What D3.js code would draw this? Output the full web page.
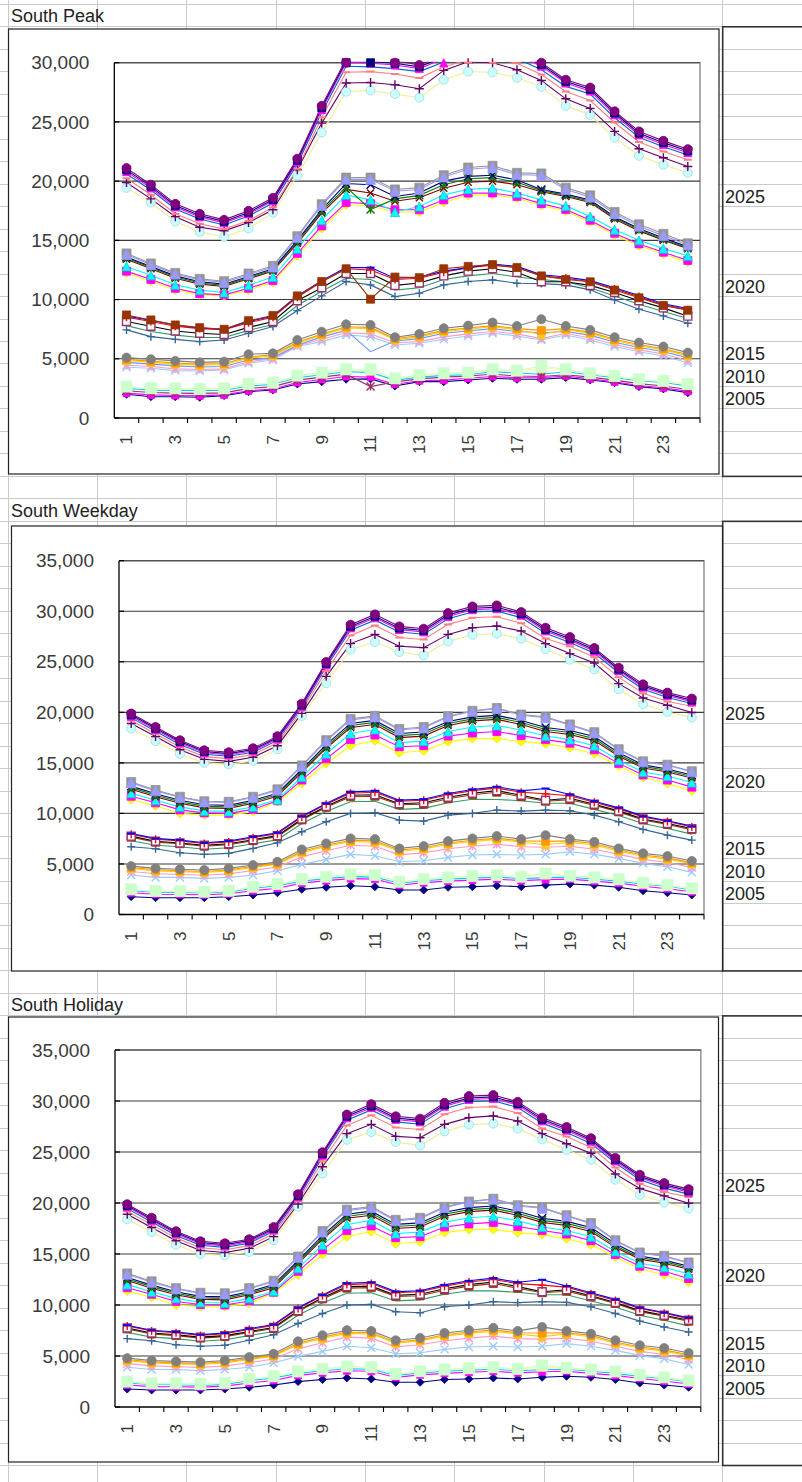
<!DOCTYPE html>
<html><head><meta charset="utf-8">
<script src="https://cdnjs.cloudflare.com/ajax/libs/d3/7.8.5/d3.min.js"></script>
<style>body{margin:0;background:#fff;}svg{display:block;}</style>
</head><body><svg id="c" width="802" height="1482"></svg>
<script>
// ---------------- DATA ----------------
const hours = [1,2,3,4,5,6,7,8,9,10,11,12,13,14,15,16,17,18,19,20,21,22,23,24];
const hourLabels = ["1","","3","","5","","7","","9","","11","","13","","15","","17","","19","","21","","23",""];
const peakTicks = [0,5000,10000,15000,20000,25000,30000];
const dayTicks = [0,5000,10000,15000,20000,25000,30000,35000];
const yearLabels = ["2025","2020","2015","2010","2005"];
const chartTitles = ["South Peak","South Weekday","South Holiday"];

// South Peak
const pk1a = [21100,19700,18080,17240,16730,17490,18590,21900,26360,30300,30500,30200,29800,30700,31300,31400,31000,30000,28560,27900,25900,24200,23400,22700];
const pk1b = [20950,19560,17950,17100,16600,17350,18450,21750,26200,30150,30100,29950,29650,30500,31100,31200,30800,29850,28420,27750,25750,24050,23250,22550];
const pk1c = [20800,19420,17820,16980,16480,17230,18330,21620,26050,30000,29950,29800,29500,30350,30950,31050,30650,29700,28280,27600,25600,23900,23100,22400];
const pk1d = [20600,19250,17650,16800,16300,17050,18150,21420,25800,29700,29650,29500,29250,30050,30650,30750,30350,29400,28000,27350,25350,23700,22900,22200];
const pk1e = [20250,18850,17250,16400,15950,16650,17800,21050,25400,29200,29250,29050,28700,29650,30250,30350,29950,29000,27570,26800,24950,23300,22500,21800];
const pk1f = [19880,18500,17000,16100,15800,16500,17580,20960,24900,28280,28330,28140,27800,29350,30080,30000,29400,28500,26950,26140,24200,22730,21970,21240];
const pk1g = [19430,18190,16590,15700,15300,16000,17320,20450,24110,27550,27660,27350,27040,28560,29260,29180,28730,27970,26360,25600,23660,22140,21380,20700];
const pk2a = [13900,13050,12250,11750,11550,12200,12850,15350,18050,20300,20300,19300,19450,20500,21150,21300,20700,20650,19450,18800,17400,16350,15550,14750];
const pk2b = [13800,12950,12150,11650,11450,12100,12750,15250,17950,20150,20150,19150,19300,20350,21000,21150,20550,20500,19300,18650,17250,16200,15400,14600];
const pk2c = [13600,12800,12000,11500,11300,11950,12600,15000,17600,19800,19700,18700,19000,20000,20400,20500,20100,19300,18900,18400,17000,16000,15200,14450];
const pk2d = [13500,12700,11900,11400,11200,11850,12500,14900,17450,19500,17600,18500,18800,19700,20200,20300,19900,19200,18800,18300,16900,15900,15100,14350];
const pk2e = [13400,12600,11800,11300,11100,11750,12400,14750,17300,19300,19000,18300,18600,19400,19900,20000,19700,19100,18700,18200,16800,15800,15000,14300];
const pk2f = [12800,12050,11250,10800,10600,11200,11900,14300,16700,18840,18420,17400,17860,18840,19320,19410,18990,18420,17910,17010,15900,15000,14300,13700];
const pk2g = [12400,11700,10950,10500,10400,10950,11600,13900,16220,18190,18100,17580,17580,18420,18990,19000,18700,18100,17600,16700,15600,14700,14000,13300];
const pk2h = [12250,11550,10800,10400,10300,10800,11450,13700,16000,18000,17900,17400,17400,18200,18800,18850,18550,17950,17450,16550,15450,14550,13850,13150];
const pk3a = [8600,8250,7850,7600,7500,8150,8600,10300,11600,12700,12700,11800,11900,12400,12700,13000,12800,12100,11900,11600,11000,10350,9650,9250];
const pk3b = [8500,8150,7750,7550,7450,8050,8500,10200,11500,12600,12500,11700,11800,12300,12700,12900,12700,12000,11800,11500,10900,10250,9550,9150];
const pk3c = [8700,8280,7860,7630,7490,8220,8650,10310,11520,12600,10030,11900,11850,12600,12800,12950,12700,12000,11700,11500,10800,10150,9500,9100];
const pk3d = [8150,7750,7350,7150,7050,7650,8150,9900,11000,12200,12200,11200,11400,12000,12400,12600,12300,11500,11500,11200,10600,9900,9300,8600];
const pk3e = [7800,7300,7000,6800,6800,7400,7900,9500,10700,11800,11700,10800,11000,11700,12000,12200,11900,11700,11500,11000,10300,9600,9000,8400];
const pk3f = [7440,6870,6640,6450,6590,7160,7720,9070,10310,11520,11240,10250,10540,11240,11520,11660,11380,11350,11240,10820,9970,9180,8620,8000];
const pk4a = [5100,4960,4820,4700,4760,5380,5460,6590,7290,7910,7860,6820,7100,7580,7800,8060,7770,8340,7770,7440,6820,6370,6030,5520];
const pk4b = [4950,4800,4650,4550,4600,5150,5350,6400,7100,7700,7650,6700,6950,7400,7600,7800,7550,7400,7550,7250,6650,6200,5850,5350];
const pk4c = [4850,4700,4550,4450,4500,5050,5250,6300,7000,7600,7550,6600,6850,7300,7500,7700,7450,7050,7450,7150,6550,6100,5750,5250];
const pk4d = [4700,4550,4400,4300,4350,4900,5100,6150,6850,7400,5600,6500,6700,7150,7350,7550,7300,7200,7300,7000,6400,5950,5600,5100];
const pk4e = [4450,4350,4150,4100,4150,4750,5000,6100,6650,7200,7100,6350,6450,6850,7100,7300,7100,6700,7150,6750,6200,5750,5400,4850];
const pk4f = [4280,4200,4000,3970,4060,4620,4900,6030,6450,7010,6870,6170,6310,6650,6930,7160,6930,6590,7010,6590,6030,5600,5240,4670];
const pk5a = [2650,2510,2510,2450,2510,2870,2980,3580,3830,4110,4110,3350,3630,3770,3830,4110,4000,4390,4110,3770,3550,3270,3130,2870];
const pk5b = [2600,2460,2460,2400,2460,2820,2930,3530,3780,4060,4000,3300,3580,3720,3780,4060,3950,4200,4060,3720,3500,3220,3080,2820];
const pk5c = [2500,2350,2330,2300,2350,2700,2850,3400,3650,3900,3850,3200,3450,3600,3650,3900,3800,3700,3900,3650,3400,3150,3000,2700];
const pk5d = [2300,2150,2100,2080,2120,2500,2650,3200,3450,3700,2650,3050,3300,3450,3550,3700,3550,3500,3650,3450,3200,2900,2700,2400];
const pk5e = [2100,1950,1900,1870,1950,2300,2450,3000,3250,3500,3450,2850,3150,3200,3350,3500,3400,3400,3550,3300,3050,2750,2550,2250];
const pk5f = [2000,1800,1800,1750,1890,2220,2370,2870,3070,3270,3300,2700,3070,3070,3210,3350,3270,3270,3410,3210,2980,2650,2450,2140];

// South Weekday
const wd1a = [19880,18550,17240,16250,16050,16450,17640,20860,24980,28670,29690,28500,28270,29820,30480,30580,29920,28370,27450,26360,24420,22770,21950,21360];
const wd1b = [19750,18420,17110,16120,15920,16320,17500,20720,24820,28500,29500,28330,28100,29640,30300,30400,29750,28200,27280,26200,24260,22620,21800,21200];
const wd1c = [19620,18300,16990,16000,15800,16200,17380,20600,24680,28350,29350,28180,27950,29480,30150,30250,29600,28050,27130,26050,24120,22480,21660,21060];
const wd1d = [19450,18130,16820,15850,15650,16050,17220,20430,24480,28120,29120,27950,27720,29250,29920,30020,29370,27830,26910,25840,23920,22280,21460,20870];
const wd1e = [19200,17880,16580,15620,15420,15820,16980,20180,24100,27600,28600,27400,27200,28700,29360,29450,28820,27300,26530,25450,23480,21880,21070,20600];
const wd1f = [18900,17600,16300,15350,15150,15550,16700,19900,23560,26800,27710,26530,26400,27710,28370,28540,28040,26800,25810,24880,22840,21420,20700,19980];
const wd1g = [18400,17150,15900,15000,14850,15200,16350,19640,22900,26200,26950,25970,25640,27020,27680,27780,27290,26230,25210,24250,22280,20800,20040,19480];
const wd2a = [13100,12320,11650,11200,11150,11650,12380,14750,17250,19350,19650,18350,18550,19620,20150,20420,19780,19550,18800,18040,16350,15150,14820,14170];
const wd2b = [13020,12230,11580,11140,11080,11580,12300,14670,17150,19250,19550,18250,18450,19550,20100,20370,19710,19480,18720,17960,16300,15100,14770,14110];
const wd2c = [12700,11950,11300,10850,10800,11300,12000,14350,16800,18900,19200,17900,18050,19100,19550,19700,19200,18500,18200,17600,16000,14800,14400,13800];
const wd2d = [12550,11800,11150,10700,10650,11150,11850,14200,16600,18700,19000,17700,17850,18900,19350,19500,19000,18300,18000,17400,15800,14650,14250,13650];
const wd2e = [12400,11650,11000,10550,10500,11000,11700,14050,16450,18500,18800,17500,17650,18700,19150,19300,18800,18100,17800,17200,15650,14500,14100,13500];
const wd2f = [12000,11300,10650,10250,10200,10650,11350,13600,15900,17900,18300,17000,17150,18100,18550,18700,18250,17650,17300,16700,15250,14100,13700,13050];
const wd2g = [11700,11050,10350,10050,10000,10400,11250,13300,15400,17300,17750,16600,16700,17650,17950,18100,17700,17300,16950,16300,14950,13800,13300,12600];
const wd2h = [11380,10750,10000,9830,9830,10160,11150,12960,14940,16700,17200,16000,16200,17100,17400,17410,17100,16900,16500,15900,14700,13550,12960,12230];
const wd3a = [8020,7530,7360,7100,7260,7690,8080,9730,10990,12130,12230,11310,11400,11970,12370,12630,12230,12470,11870,11210,10550,9730,9270,8740];
const wd3b = [7950,7450,7280,7020,7180,7600,8000,9650,10900,12000,12100,11200,11300,11850,12250,12500,12100,11950,11750,11100,10450,9650,9200,8650];
const wd3c = [7650,7150,7000,6750,6900,7300,7700,9350,10600,11650,11700,10850,10900,11450,11850,12100,11650,11200,11350,10800,10150,9350,8900,8400];
const wd3d = [7750,7250,7080,6850,7000,7400,7800,9450,10700,11800,11850,10950,11050,11600,12000,12250,11800,11300,11500,10900,10250,9450,9000,8500];
const wd3e = [7300,6850,6700,6450,6600,7000,7400,9000,10200,11150,11200,10400,10500,11050,11400,11380,11250,11000,11000,10400,9800,9000,8500,7950];
const wd3f = [6700,6500,6110,5950,6050,6540,7090,8180,9170,10000,10060,9340,9240,9830,10000,10330,10230,10330,10260,9830,9170,8420,7850,7360];
const wd4a = [4790,4560,4470,4400,4560,4890,5220,6440,7030,7530,7460,6540,6770,7260,7530,7760,7460,7850,7460,7190,6540,6050,5780,5290];
const wd4b = [4650,4420,4330,4260,4420,4750,5080,6250,6850,7350,7280,6380,6600,7080,7350,7560,7280,7250,7280,7020,6380,5880,5600,5130];
const wd4c = [4550,4320,4230,4160,4320,4650,4980,6120,6720,7220,7150,6260,6480,6950,7220,7430,7150,6900,7150,6880,6250,5760,5480,5020];
const wd4e = [4250,4030,3950,3880,4020,4350,4700,5700,6300,6850,6750,5900,6100,6500,6750,6950,6700,6650,6750,6450,5950,5450,5150,4650];
const wd4f = [3900,3670,3670,3570,3670,3900,4330,4960,5450,5950,5810,5220,5320,5650,5880,5950,5880,5950,6210,5950,5550,5060,4720,4170];
const wd5a = [2490,2320,2320,2250,2350,2750,3010,3480,3740,3970,3900,3240,3510,3670,3800,3900,3740,4070,3840,3670,3480,3140,2910,2590];
const wd5b = [2450,2280,2280,2210,2310,2700,2960,3430,3690,3920,3850,3190,3460,3620,3750,3850,3690,3950,3790,3620,3430,3090,2860,2540];
const wd5c = [2350,2200,2180,2120,2220,2580,2850,3300,3550,3750,3700,3100,3350,3500,3600,3700,3550,3650,3700,3500,3300,3000,2800,2450];
const wd5e = [2150,2000,1980,1950,2050,2350,2600,3100,3350,3550,3500,2900,3150,3300,3400,3500,3350,3450,3500,3300,3100,2800,2550,2250];
const wd5f = [1760,1660,1660,1660,1760,1930,2150,2490,2690,2850,2750,2420,2420,2690,2750,2850,2750,2910,3010,2910,2690,2350,2150,1930];

// series lists (drawn in this order: lowest group first, top series of each group last)
const peakSeries = [
  ["5f",pk5f],["5e",pk5e],["5d",pk5d],["5c",pk5c],["5b",pk5b],["5a",pk5a],
  ["4f",pk4f],["4e",pk4e],["4d",pk4d],["4c",pk4c],["4b",pk4b],["4a",pk4a],
  ["3f",pk3f],["3e",pk3e],["3d",pk3d],["3b",pk3b],["3a",pk3a],["3c",pk3c],
  ["2h",pk2h],["2g",pk2g],["2f",pk2f],["2e",pk2e],["2d",pk2d],["2c",pk2c],["2a",pk2a],["2b",pk2b],
  ["1g",pk1g],["1f",pk1f],["1e",pk1e],["1d",pk1d],["1c",pk1c],["1b",pk1b],["1a",pk1a]
];
const weekdaySeries = [
  ["5f",wd5f],["5e",wd5e],["5c",wd5c],["5b",wd5b],["5a",wd5a],
  ["4f",wd4f],["4e",wd4e],["4c",wd4c],["4b",wd4b],["4a",wd4a],
  ["3f",wd3f],["3e",wd3e],["3c",wd3c],["3d",wd3d],["3b",wd3b],["3a",wd3a],
  ["2h",wd2h],["2g",wd2g],["2f",wd2f],["2e",wd2e],["2d",wd2d],["2c",wd2c],["2a",wd2a],["2b",wd2b],
  ["1g",wd1g],["1f",wd1f],["1e",wd1e],["1d",wd1d],["1c",wd1c],["1b",wd1b],["1a",wd1a]
];
const holidaySeries = weekdaySeries;

// ---------------- STYLES ----------------
const STY = {
  "1a":{c:"#800080",m:"circle",s:9}, "1b":{c:"#000080",m:"square",s:8}, "1c":{c:"#FF00FF",m:"triangle",s:8},
  "1d":{c:"#0066CC",m:"none"}, "1e":{c:"#FF8080",m:"dash",s:8}, "1f":{c:"#660066",m:"plus",s:9},
  "1g":{c:"#CCFFFF",lc:"#EEEE99",st:"#99DDDD",m:"circle",s:9},
  "2a":{c:"#969696",m:"square",s:9}, "2b":{c:"#9999FF",m:"triangle",s:10}, "2c":{c:"#000080",m:"x",s:8},
  "2d":{c:"#008000",m:"star",s:8}, "2e":{c:"#800000",m:"x",s:7}, "2f":{c:"#00FFFF",st:"#00CCCC",m:"triangle",s:9},
  "2g":{c:"#FF00FF",m:"square",s:8}, "2h":{c:"#FFFF00",st:"#E6E600",m:"diamond",s:9},
  "3a":{c:"#0000FF",m:"dash",s:8}, "3b":{c:"#FF0000",m:"plus",s:8}, "3c":{c:"#993300",m:"square",s:8},
  "3d":{c:"#000000",mc:"#993366",m:"hsquare",s:8}, "3e":{c:"#339966",m:"none"}, "3f":{c:"#336699",m:"plus",s:8},
  "4a":{c:"#808080",m:"circle",s:9}, "4b":{c:"#FF9900",m:"square",s:8}, "4c":{c:"#FFCC00",m:"triangle",s:8},
  "4d":{c:"#6699FF",m:"none"}, "4e":{c:"#FF99CC",m:"star",s:8}, "4f":{c:"#99CCFF",m:"x",s:8},
  "5a":{c:"#CCFFCC",m:"square",s:11}, "5b":{c:"#FFFF99",st:"#DDDD55",m:"triangle",s:9}, "5c":{c:"#00CCFF",m:"none"},
  "5d":{c:"#993366",m:"star",s:8}, "5e":{c:"#FF00FF",m:"square",s:7}, "5f":{c:"#000080",m:"diamond",s:8}
};

// ---------------- LAYOUT ----------------
const W = 802, H = 1482;
const rowY = k => 4.3 + 22.48*k;
const colX = [8.3,97.6,186.9,276.2,365.5,454.8,544.1,633.4,722.7];
const FONT = "'Liberation Sans', Arial, sans-serif";

const charts = [
  {title:chartTitles[0], titleRow:0, box:[8.5,29,719,474], plot:[114.3,62.7,700,418], ticks:peakTicks, series:peakSeries, region:[1,21], labelRows:[8,12,15,16,17]},
  {title:chartTitles[1], titleRow:22, box:[11.5,526,722.5,971], plot:[119,560.7,704,914.5], ticks:dayTicks, series:weekdaySeries, region:[23,43], labelRows:[31,34,37,38,39]},
  {title:chartTitles[2], titleRow:44, box:[8.5,1017,718.5,1462], plot:[115,1050,700.8,1407], ticks:dayTicks, series:holidaySeries, region:[45,65], labelRows:[52,56,59,60,61]}
];

const svg = d3.select("#c");
svg.append("rect").attr("width",W).attr("height",H).attr("fill","#fff");

// spreadsheet grid
const grid = svg.append("g").attr("stroke","#cacaca").attr("stroke-width",1).attr("shape-rendering","crispEdges");
grid.selectAll("line.v").data(colX).join("line").attr("class","v")
  .attr("x1",d=>d).attr("x2",d=>d).attr("y1",0).attr("y2",H);
grid.selectAll("line.h").data(d3.range(0,66)).join("line").attr("class","h")
  .attr("x1",0).attr("x2",W).attr("y1",d=>rowY(d)).attr("y2",d=>rowY(d));

function markerPath(t, x, y, s){
  const h = s/2;
  switch(t){
    case "circle": return `M${x-h},${y}A${h},${h} 0 1,0 ${x+h},${y}A${h},${h} 0 1,0 ${x-h},${y}Z`;
    case "square": case "hsquare": return `M${x-h},${y-h}h${s}v${s}h${-s}Z`;
    case "triangle": return `M${x},${y-h}L${x+h},${y+h}L${x-h},${y+h}Z`;
    case "diamond": return `M${x},${y-h}L${x+h},${y}L${x},${y+h}L${x-h},${y}Z`;
    case "x": return `M${x-h},${y-h}L${x+h},${y+h}M${x-h},${y+h}L${x+h},${y-h}`;
    case "plus": return `M${x-h},${y}L${x+h},${y}M${x},${y-h}L${x},${y+h}`;
    case "star": return `M${x-h},${y-h}L${x+h},${y+h}M${x-h},${y+h}L${x+h},${y-h}M${x},${y-h}L${x},${y+h}`;
    case "dash": return `M${x-h},${y}L${x+h},${y}`;
  }
  return "";
}
const filled = {circle:1,square:1,triangle:1,diamond:1};

charts.forEach((ch, ci) => {
  // title in cell
  svg.append("text").attr("x",11).attr("y",rowY(ch.titleRow+1)-4.5)
    .attr("font-family",FONT).attr("font-size",18).attr("fill","#222").text(ch.title);

  // right-hand bordered cell block with year labels
  const r0 = rowY(ch.region[0]), r1 = rowY(ch.region[1]);
  const reg = svg.append("g");
  reg.append("rect").attr("x",722.7).attr("y",r0).attr("width",W).attr("height",r1-r0)
    .attr("fill","none").attr("stroke","#333").attr("stroke-width",1.6);
  reg.selectAll("text").data(yearLabels).join("text")
    .attr("x",725).attr("y",(d,i)=>rowY(ch.labelRows[i]+1)-3.5)
    .attr("font-family",FONT).attr("font-size",18).attr("fill","#222").text(d=>d);

  // chart box
  const [bx0,by0,bx1,by1] = ch.box;
  svg.append("rect").attr("x",bx0).attr("y",by0).attr("width",bx1-bx0).attr("height",by1-by0)
    .attr("fill","#fff").attr("stroke","#222").attr("stroke-width",1.2);

  const [px0,py0,px1,py1] = ch.plot;
  const maxV = ch.ticks[ch.ticks.length-1];
  const x = d3.scaleBand().domain(hours).range([px0,px1]).padding(0);
  const bw = x.bandwidth();
  const xc = h => x(h) + bw/2;
  const y = d3.scaleLinear().domain([0,maxV]).range([py1,py0]);

  const g = svg.append("g");
  // plot border (top / right grey)
  g.append("path").attr("d",`M${px0},${py0}H${px1}V${py1}`).attr("fill","none")
    .attr("stroke","#9a9a9a").attr("stroke-width",1.6);
  // gridlines
  g.selectAll("line.gl").data(ch.ticks.filter(t=>t>0)).join("line").attr("class","gl")
    .attr("x1",px0).attr("x2",px1).attr("y1",d=>y(d)).attr("y2",d=>y(d))
    .attr("stroke","#3a3a3a").attr("stroke-width",1.1);
  // y axis with small inside ticks
  g.selectAll("line.yt").data(ch.ticks).join("line").attr("class","yt")
    .attr("x1",px0).attr("x2",px0+5).attr("y1",d=>y(d)).attr("y2",d=>y(d))
    .attr("stroke","#000").attr("stroke-width",1.2);
  g.append("line").attr("x1",px0).attr("x2",px0).attr("y1",py0).attr("y2",py1)
    .attr("stroke","#000").attr("stroke-width",1.3);
  // y labels
  g.selectAll("text.yl").data(ch.ticks).join("text").attr("class","yl")
    .attr("x",px0-25).attr("y",d=>y(d)).attr("dy","0.35em").attr("text-anchor","end")
    .attr("font-family",FONT).attr("font-size",19).attr("fill","#3a3a3a")
    .text(d=>d3.format(",")(d));

  // series (lines clipped to the plot; markers allowed a few px above the top edge)
  const cid = "clip"+ci, mid = "mclip"+ci;
  const defs = svg.append("defs");
  defs.append("clipPath").attr("id",cid).append("rect")
    .attr("x",px0).attr("y",py0-1).attr("width",px1-px0).attr("height",py1-py0+1);
  defs.append("clipPath").attr("id",mid).append("rect")
    .attr("x",px0).attr("y",py0-6).attr("width",px1-px0).attr("height",py1-py0+6);

  const line = d3.line().x((v,i)=>xc(hours[i])).y(v=>y(v));
  const lg = svg.append("g").attr("clip-path",`url(#${cid})`);
  const mg = svg.append("g").attr("clip-path",`url(#${mid})`);
  ch.series.forEach(([key, vals]) => {
    const st = STY[key];
    lg.append("path").datum(vals).attr("d",line).attr("fill","none")
      .attr("stroke",st.lc || st.c).attr("stroke-width",1.1);
    if (st.m !== "none") {
      mg.append("g").selectAll("path").data(vals).join("path")
        .attr("d",(v,i)=> v > maxV*1.012 ? "" : markerPath(st.m, xc(hours[i]), Math.max(y(v), py0), st.s))
        .attr("fill", st.m==="hsquare" ? "#fff" : (filled[st.m] ? st.c : "none"))
        .attr("stroke", st.m==="hsquare" ? st.mc : (st.st || st.c))
        .attr("stroke-width", st.m==="dash" ? 2 : (filled[st.m] ? 0.8 : 1.4));
    }
  });

  // x axis
  const ax = svg.append("g");
  ax.append("line").attr("x1",px0).attr("x2",px1).attr("y1",py1).attr("y2",py1)
    .attr("stroke","#000").attr("stroke-width",1.3);
  ax.selectAll("line.xt").data(hours).join("line").attr("class","xt")
    .attr("x1",h=>x(h)+bw).attr("x2",h=>x(h)+bw).attr("y1",py1).attr("y2",py1+5)
    .attr("stroke","#000").attr("stroke-width",1.1);
  ax.selectAll("text").data(hours).join("text")
    .attr("transform",h=>`translate(${xc(h)},${py1+17}) rotate(-90)`)
    .attr("dy","0.35em").attr("text-anchor","end")
    .attr("font-family",FONT).attr("font-size",17).attr("fill","#3a3a3a")
    .text((h,i)=>hourLabels[i]);
});
</script></body></html>
